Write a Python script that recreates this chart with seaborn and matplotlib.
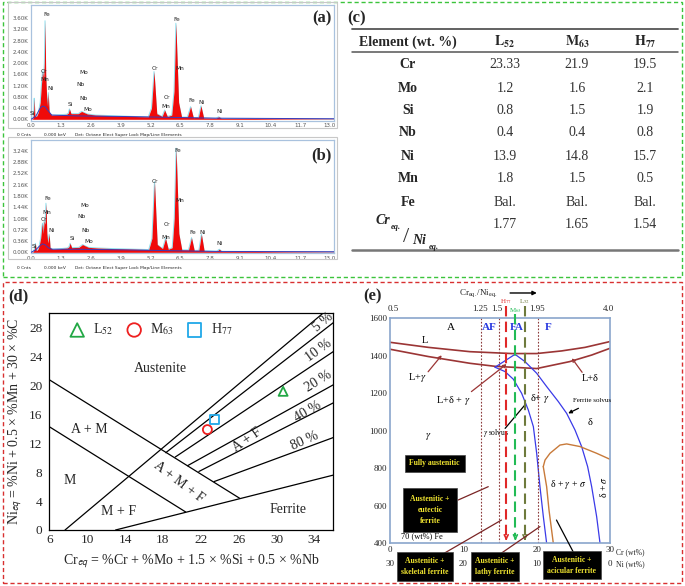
import numpy as np
import pandas as pd
import seaborn as sns
import matplotlib.pyplot as plt
from matplotlib.patches import Rectangle

W, H = 685, 586

# ---------------- (a)/(b) EDS spectra: (keV, kilo-counts)
eds_a = [(0.00, 0.00), (0.08, 0.02), (0.12, 0.30), (0.14, 0.75), (0.17, 0.10), (0.25, 0.12),
         (0.32, 0.25), (0.40, 0.60), (0.45, 1.20), (0.50, 1.70), (0.55, 1.45), (0.58, 2.00),
         (0.61, 3.51), (0.64, 1.60), (0.68, 0.80), (0.72, 0.45), (0.75, 0.95), (0.79, 0.25),
         (0.90, 0.15), (1.20, 0.16), (1.55, 0.18), (1.62, 0.22), (1.67, 0.37), (1.74, 0.20),
         (2.05, 0.20), (2.20, 0.28), (2.28, 0.25), (2.45, 0.19), (2.80, 0.15), (3.50, 0.13),
         (4.50, 0.10), (5.10, 0.09), (5.24, 0.40), (5.35, 1.70), (5.47, 0.20), (5.70, 0.10),
         (5.81, 0.33), (5.93, 0.10), (6.12, 0.15), (6.22, 1.00), (6.30, 3.42), (6.42, 0.60),
         (6.55, 0.08), (6.80, 0.08), (6.94, 0.45), (7.06, 0.06), (7.28, 0.07), (7.39, 0.48),
         (7.51, 0.05), (8.05, 0.04), (8.16, 0.09), (8.28, 0.03), (9.50, 0.03), (11.0, 0.02),
         (13.2, 0.01)]
eds_a_bg = [(0.0, 0.0), (0.2, 0.10), (0.4, 0.40), (0.5, 0.47), (0.6, 0.45), (0.75, 0.30),
            (0.9, 0.15), (2.0, 0.12), (4.0, 0.10), (8.0, 0.04), (13.2, 0.02)]
eds_a_labels = [('Fe', 0.68, 3.72), ('Cr', 0.54, 1.70), ('Mn', 0.59, 1.43), ('Ni', 0.83, 1.10),
                ('Si', 0.07, 0.21), ('Si', 1.71, 0.51), ('Mo', 2.29, 1.66), ('Nb', 2.15, 1.25),
                ('Nb', 2.29, 0.73), ('Mo', 2.47, 0.36), ('Cr', 5.37, 1.82), ('Fe', 6.36, 3.54),
                ('Mn', 6.46, 1.82), ('Cr', 5.93, 0.78), ('Mn', 5.85, 0.47), ('Fe', 7.01, 0.66),
                ('Ni', 7.42, 0.59), ('Ni', 8.20, 0.27)]
eds_a_yticks = [0.0, 0.4, 0.8, 1.2, 1.6, 2.0, 2.4, 2.8, 3.2, 3.6]

eds_b = [(0.00, 0.00), (0.10, 0.02), (0.15, 0.12), (0.19, 0.29), (0.23, 0.05), (0.30, 0.10),
         (0.35, 0.20), (0.42, 0.45), (0.47, 0.80), (0.50, 0.93), (0.53, 0.60), (0.57, 1.00),
         (0.61, 0.90), (0.65, 1.57), (0.69, 0.60), (0.73, 0.30), (0.79, 0.58), (0.83, 0.15),
         (0.95, 0.10), (1.30, 0.12), (1.58, 0.14), (1.65, 0.18), (1.70, 0.29), (1.77, 0.15),
         (2.08, 0.16), (2.24, 0.25), (2.32, 0.22), (2.50, 0.16), (2.90, 0.14), (3.60, 0.12),
         (4.60, 0.10), (5.12, 0.09), (5.26, 0.45), (5.37, 2.26), (5.49, 0.25), (5.72, 0.12),
         (5.85, 0.45), (5.97, 0.10), (6.14, 0.15), (6.23, 1.10), (6.31, 3.33), (6.43, 0.60),
         (6.56, 0.08), (6.85, 0.08), (6.98, 0.47), (7.10, 0.06), (7.30, 0.07), (7.41, 0.58),
         (7.53, 0.05), (8.08, 0.04), (8.19, 0.10), (8.30, 0.03), (9.50, 0.03), (11.0, 0.02),
         (13.2, 0.01)]
eds_b_bg = [(0.0, 0.0), (0.2, 0.08), (0.4, 0.22), (0.5, 0.27), (0.6, 0.25), (0.75, 0.15),
            (0.9, 0.10), (2.0, 0.10), (4.0, 0.08), (8.0, 0.03), (13.2, 0.02)]
eds_b_labels = [('Fe', 0.72, 1.73), ('Mn', 0.68, 1.28), ('Cr', 0.58, 1.06), ('Ni', 0.87, 0.71),
                ('Si', 0.14, 0.18), ('Si', 1.78, 0.45), ('Mo', 2.35, 1.51), ('Nb', 2.21, 1.14),
                ('Nb', 2.35, 0.69), ('Mo', 2.50, 0.34), ('Cr', 5.39, 2.26), ('Fe', 6.38, 3.27),
                ('Mn', 6.47, 1.67), ('Cr', 5.92, 0.90), ('Mn', 5.86, 0.48), ('Fe', 7.03, 0.64),
                ('Ni', 7.44, 0.64), ('Ni', 8.20, 0.27)]
eds_b_yticks = [0.0, 0.36, 0.72, 1.08, 1.44, 1.80, 2.16, 2.52, 2.88, 3.24]
eds_xticks = [0.0, 1.3, 2.6, 3.9, 5.2, 6.5, 7.8, 9.1, 10.4, 11.7, 13.0]

# ---------------- (c) composition table
elements = ['Cr', 'Mo', 'Si', 'Nb', 'Ni', 'Mn', 'Fe']
comp_L52 = ['23.33', '1.2', '0.8', '0.4', '13.9', '1.8', 'Bal.']
comp_M63 = ['21.9', '1.6', '1.5', '0.4', '14.8', '1.5', 'Bal.']
comp_H77 = ['19.5', '2.1', '1.9', '0.8', '15.7', '0.5', 'Bal.']
cr_ni_ratio = [1.77, 1.65, 1.54]

# ---------------- (d) Schaeffler diagram
sch_lines = {
    '0':  ([7.66, 34.9], [0.0, 30.0]),
    '5':  ([18.3, 36.0], [10.7, 28.7]),
    '10': ([19.3, 36.0], [10.1, 24.7]),
    '20': ([20.6, 36.0], [8.9, 20.1]),
    '40': ([21.8, 36.0], [8.1, 17.6]),
    '80': ([23.4, 36.0], [6.7, 12.8]),
    'AM': ([6.0, 26.1], [20.8, 4.4]),
    'M':  ([6.0, 20.4], [14.3, 2.5]),
    'F':  ([13.0, 36.0], [0.0, 7.6]),
}
samples = ['L$_{52}$', 'M$_{63}$', 'H$_{77}$']
sample_cr_eq = [30.7, 22.7, 23.4]
sample_ni_eq = [19.2, 13.9, 15.3]

# ---------------- (e) pseudo-binary Fe-Cr-Ni section
liq_cr = [0, 5.23, 10.9, 16.6, 20.0, 23.4, 26.6, 30.0]
liq_T = [1472, 1445, 1422, 1412, 1412, 1426, 1445, 1476]
sol_cr = [0, 5.23, 10.9, 14.3, 20.0, 24.5, 27.5, 30.0]
sol_T = [1435, 1396, 1360, 1344, 1332, 1369, 1404, 1440]
peri_cr = [14.32, 17.05]
peri_T = [1339, 1408]
gsolv_cr = [14.32, 15.68, 16.82, 17.95, 18.86, 19.55, 20.0, 20.45, 20.91, 21.36]
gsolv_T = [1339, 1316, 1275, 1200, 1111, 1022, 880, 702, 542, 400]
fsolv_cr = [17.05, 18.41, 20.0, 21.36, 22.95, 24.09, 25.23, 26.14, 26.95, 27.5, 28.18, 28.64]
fsolv_T = [1408, 1369, 1307, 1236, 1156, 1093, 1004, 915, 809, 702, 542, 400]
sig_cr = [20.9, 21.14, 21.82, 23.18, 24.09, 25.9, 28.18, 30.0]
sig_T = [809, 844, 880, 924, 930, 916, 880, 848]
sig_low_cr = [20.9, 21.36, 21.68, 22.27]
sig_low_T = [809, 702, 578, 400]
mode_bounds_cr = [12.41, 14.91, 20.14]
ratio_tick_cr = [0.4, 12.3, 14.6, 20.1, 29.8]
ratio_tick_lab = ['0.5', '1.25', '1.5', '1.95', '4.0']
cool_cr = [15.85, 17.1, 18.4]
cool_top = [1665, 1625, 1665]
cool_lab = ['H$_{77}$', 'M$_{63}$', 'L$_{52}$']
cool_lab_T = [1690, 1640, 1690]
cool_col = ['#e02828', '#22bb55', '#6e7a3c']


def px_box(l, t, r, b):
    return [l / W, 1 - b / H, (r - l) / W, (b - t) / H]


sns.set_theme(style='white')
plt.rcParams['font.family'] = ['Liberation Serif', 'DejaVu Serif']
plt.rcParams['mathtext.fontset'] = 'stix'

fig = plt.figure(figsize=(W / 100, H / 100), dpi=100)
fig.patch.set_facecolor('white')

# dashed group frames
fig.add_artist(Rectangle((3 / W, 1 - 277 / H), 679 / W, 275 / H, transform=fig.transFigure,
                         fill=False, ec='#3cc43c', lw=1.0, ls=(0, (3, 2))))
fig.add_artist(Rectangle((3 / W, 1 - 583 / H), 679 / W, 301 / H, transform=fig.transFigure,
                         fill=False, ec='#d83030', lw=1.0, ls=(0, (3, 2))))


def draw_eds(box, frame, spec, bg, labels, yticks, ylim, tag, tag_y, foot_y):
    fig.add_artist(Rectangle((frame[0] / W, 1 - frame[3] / H), (frame[2] - frame[0]) / W,
                             (frame[3] - frame[1]) / H, transform=fig.transFigure,
                             fill=False, ec='#c8c8c8', lw=0.8))
    ax = fig.add_axes(px_box(*box))
    df = pd.DataFrame(spec, columns=['keV', 'kcnt'])
    bgd = pd.DataFrame(bg, columns=['keV', 'kcnt'])
    ax.plot(df['keV'], df['kcnt'], color='#8fe0f0', lw=0.7, zorder=1)
    ax.fill_between(df['keV'], df['kcnt'], color='#f00a0a', lw=0, zorder=2)
    sns.lineplot(data=bgd, x='keV', y='kcnt', ax=ax, color='#3a3ab8', lw=0.7, zorder=3)
    for name, x, y in labels:
        ax.text(x, y, name, fontsize=4.2, ha='center', va='center', family='DejaVu Sans',
                color='#222222', zorder=4)
    ax.set_xlim(0, 13.19)
    ax.set_ylim(*ylim)
    ax.set_xticks(eds_xticks)
    ax.set_xticklabels([f'{v:.1f}' for v in eds_xticks], family='DejaVu Sans')
    ax.set_yticks(yticks)
    ax.set_yticklabels([f'{v:.2f}K' for v in yticks], family='DejaVu Sans')
    ax.tick_params(labelsize=4.0, length=0, pad=2, colors='#555555')
    ax.set_xlabel('')
    ax.set_ylabel('')
    for s in ax.spines.values():
        s.set_color('#a9c2de')
        s.set_linewidth(0.9)
    ax.text(0.958, tag_y, tag, transform=ax.transAxes, fontsize=12, fontweight='bold',
            ha='center', va='center')
    fig.text(17 / W, 1 - foot_y / H, '0 Cnts', fontsize=3.2, family='DejaVu Sans', va='center')
    fig.text(44 / W, 1 - foot_y / H, '0.000 keV', fontsize=3.2, family='DejaVu Sans', va='center')
    fig.text(75 / W, 1 - foot_y / H, 'Det: Octane Elect Super Lock Map/Line Elements',
             fontsize=3.2, family='DejaVu Sans', va='center')


draw_eds((31, 5, 334.3, 120.7), (8, 2, 337, 128), eds_a, eds_a_bg, eds_a_labels,
         eds_a_yticks, (-0.05, 4.07), '(a)', 0.885, 135)
draw_eds((31, 140, 334.3, 253.3), (8, 137, 337, 259), eds_b, eds_b_bg, eds_b_labels,
         eds_b_yticks, (-0.03, 3.59), '(b)', 0.868, 267.7)

# ---------------- (c) table
axc = fig.add_axes(px_box(340, 5, 682, 275))
axc.set_xlim(340, 682)
axc.set_ylim(275, 5)
axc.axis('off')
axc.text(347, 18, '(c)', fontsize=12, fontweight='bold', ha='left', va='center')
axc.plot([352, 678], [29, 29], color='#555555', lw=1.3)
axc.plot([352, 678], [52, 52], color='#555555', lw=1.1)
axc.plot([352, 678], [250, 250], color='#777777', lw=1.8)
col_x = [408, 505, 577, 645]
head = ['Element (wt. %)', r'$\mathbf{L_{52}}$', r'$\mathbf{M_{63}}$', r'$\mathbf{H_{77}}$']
for x, h in zip(col_x, head):
    axc.text(x, 42, h, fontsize=10, fontweight='bold', ha='center', va='center')
row_y = [64, 88, 110, 133, 156, 179, 202]
for i, el in enumerate(elements):
    y = row_y[i]
    axc.text(col_x[0], y, el, fontsize=10, fontweight='bold', ha='center', va='center')
    for x, col in zip(col_x[1:], [comp_L52, comp_M63, comp_H77]):
        axc.text(x, y, col[i], fontsize=10, ha='center', va='center', color='#333333')
for x, v in zip(col_x[1:], cr_ni_ratio):
    axc.text(x, 225, f'{v:.2f}', fontsize=10, ha='center', va='center', color='#333333')
axc.text(383, 221, 'Cr', fontsize=10, fontweight='bold', fontstyle='italic', ha='center', va='center')
axc.text(396, 227, 'eq.', fontsize=6, fontweight='bold', fontstyle='italic', ha='center', va='center')
axc.text(406.5, 238, '/', fontsize=16, ha='center', va='center', color='#333333')
axc.text(419, 241, 'Ni', fontsize=10, fontweight='bold', fontstyle='italic', ha='center', va='center')
axc.text(434, 247, 'eq.', fontsize=6, fontweight='bold', fontstyle='italic', ha='center', va='center')

# ---------------- (d) Schaeffler
axd = fig.add_axes(px_box(49.3, 313.3, 333.3, 530))
for key, (xs, ys) in sch_lines.items():
    axd.plot(xs, ys, color='black', lw=0.9)
mk = ['^', 'o', 's']
mc = ['#22a845', '#ee2020', '#20a8e8']
for name, x, y, m, c in zip(samples, sample_cr_eq, sample_ni_eq, mk, mc):
    axd.scatter([x], [y], marker=m, s=42, facecolors='none', edgecolors=c, linewidths=1.3,
                zorder=4, label=name)
axd.legend(loc='upper left', bbox_to_anchor=(0.02, 1.0), ncol=3, frameon=False, fontsize=10,
           handletextpad=0.15, columnspacing=0.5, markerscale=1.5, borderaxespad=0.2)
axd.set_xlim(6, 36)
axd.set_ylim(0, 30)
axd.set_xticks([6, 10, 14, 18, 22, 26, 30, 34])
axd.set_yticks([0, 4, 8, 12, 16, 20, 24, 28])
axd.tick_params(axis='x', direction='in', length=4, width=0.9, labelsize=9.5, pad=3, color='black')
axd.tick_params(axis='y', direction='out', length=4, width=0.9, labelsize=9.5, pad=1, color='black')
for s in axd.spines.values():
    s.set_color('black')
    s.set_linewidth(0.9)
d_labels = [('Austenite', 17.7, 22.4, 0), ('A + M', 10.2, 13.9, 0), ('M', 8.2, 6.9, 0),
            ('M + F', 13.3, 2.5, 0), ('A + M + F', 19.7, 6.7, -37), ('A + F', 26.9, 12.5, 35),
            ('Ferrite', 31.2, 2.9, 0), ('5 %', 34.9, 28.7, 40), ('10 %', 34.5, 24.8, 36),
            ('20 %', 34.4, 20.6, 32), ('40 %', 33.3, 16.4, 30), ('80 %', 33.0, 12.3, 24)]
for t, x, y, r in d_labels:
    axd.text(x, y, t, fontsize=10, ha='center', va='center', rotation=r)
axd.set_xlabel(r'Cr$_{\mathsf{eq}}$ = %Cr + %Mo + 1.5 × %Si + 0.5 × %Nb', fontsize=10, labelpad=5)
axd.set_ylabel(r'Ni$_{\mathsf{eq}}$ = %Ni + 0.5 × %Mn + 30 × %C', fontsize=10, labelpad=3)
fig.text(18 / W, 1 - 296 / H, '(d)', fontsize=12, fontweight='bold', ha='center', va='center')

# ---------------- (e) phase diagram
axe = fig.add_axes(px_box(390, 318.3, 610, 543.3))
brown = '#9b3535'
blue = '#3a3ae8'
axe.plot(liq_cr, liq_T, color=brown, lw=1.2)
axe.plot(sol_cr, sol_T, color=brown, lw=1.2)
axe.plot(peri_cr, peri_T, color=blue, lw=0.9)
axe.plot(gsolv_cr, gsolv_T, color=blue, lw=0.9)
axe.plot(fsolv_cr, fsolv_T, color=blue, lw=0.9)
axe.plot(sig_cr, sig_T, color='#c87a3a', lw=1.0)
axe.plot(sig_low_cr, sig_low_T, color='#c87a3a', lw=1.0)
for x in mode_bounds_cr:
    axe.plot([x, x], [400, 1600], color='#8b3a3a', lw=0.8, ls=(0, (1.5, 1.5)))
for x, top, c, lab, ly in zip(cool_cr, cool_top, cool_col, cool_lab, cool_lab_T):
    axe.plot([x, x], [top, 440], color=c, lw=1.5, ls=(0, (5, 2.5)), clip_on=False, zorder=5)
    axe.annotate('', xy=(x, 400), xytext=(x, 445),
                 arrowprops=dict(arrowstyle='->', color=c, lw=1.2, mutation_scale=7))
    axe.text(x, ly, lab, fontsize=5, color=c, ha='center', va='center', clip_on=False)
for x, t in zip(ratio_tick_cr, ratio_tick_lab):
    axe.text(x, 1650, t, fontsize=6.5, ha='center', va='center')
axe.text(12.0, 1735, r'Cr$_{\rm eq.}$/Ni$_{\rm eq.}$', fontsize=6.5, ha='center', va='center')
axe.annotate('', xy=(20.4, 1735), xytext=(16.0, 1735), annotation_clip=False,
             arrowprops=dict(arrowstyle='-|>', color='black', lw=1.0, mutation_scale=6))
axe.set_xlim(0, 30)
axe.set_ylim(400, 1600)
axe.set_yticks([400, 600, 800, 1000, 1200, 1400, 1600])
axe.set_xticks([0, 10, 20, 30])
axe.tick_params(direction='in', length=4, width=1.1, color='#4a70c0', labelsize=6.5, pad=2)
for s in axe.spines.values():
    s.set_color('#8aa6cc')
    s.set_linewidth(1.2)
axe.text(30.8, 355, 'Cr (wt%)', fontsize=5.5, ha='left', va='center', clip_on=False)
for x, t in zip([0, 10, 20, 30], ['30', '20', '10', '0']):
    axe.text(x, 290, t, fontsize=6.5, ha='center', va='center', clip_on=False)
axe.text(30.8, 290, 'Ni (wt%)', fontsize=5.5, ha='left', va='center', clip_on=False)

e_labels = [('A', 8.32, 1552, 8, 'black', 'normal', 0), ('AF', 13.6, 1552, 8, '#2a3ae0', 'bold', 0),
            ('FA', 17.3, 1552, 8, '#2a3ae0', 'bold', 0), ('F', 21.6, 1552, 8, '#2a3ae0', 'bold', 0),
            ('L', 4.77, 1484, 7.5, 'black', 'normal', 0),
            (r'L+$\gamma$', 3.77, 1285, 7.5, 'black', 'normal', 0),
            ('L+δ', 27.3, 1280, 7.5, 'black', 'normal', 0),
            (r'L+δ + $\gamma$', 8.64, 1164, 7.5, 'black', 'normal', 0),
            (r'δ+ $\gamma$', 20.4, 1173, 7.5, 'black', 'normal', 0),
            ('δ', 27.3, 1044, 7.5, 'black', 'normal', 0),
            (r'$\gamma$', 5.2, 969, 7.5, 'black', 'normal', 0),
            (r'δ + $\gamma$ + $\sigma$', 24.3, 715, 7, 'black', 'normal', 0),
            (r'δ + $\sigma$', 29.1, 702, 7, 'black', 'normal', 90),
            ('Ferrite solvus', 27.5, 1159, 5, 'black', 'normal', 0),
            (r'$\gamma$ solvus', 14.5, 990, 5.5, 'black', 'normal', 0),
            ('70 (wt%) Fe', 4.3, 439, 6, 'black', 'normal', 0)]
for t, x, y, fs, c, fw, r in e_labels:
    axe.text(x, y, t, fontsize=fs, color=c, fontweight=fw, rotation=r, ha='center', va='center')

leaders = [((5.2, 1315), (7.05, 1403), brown, '->'), ((26.2, 1312), (24.8, 1387), brown, '->'),
           ((11.1, 1209), (15.9, 1356), brown, '->'), ((25.7, 1120), (24.3, 1093), 'black', '-|>'),
           ((15.7, 1013), (18.4, 1138), 'black', '-'), ((9.3, 631), (13.4, 702), '#7a2525', '-'),
           ((6.6, 329), (15.2, 524), '#7a2525', '-'), ((14.5, 329), (20.45, 489), '#7a2525', '-'),
           ((25.2, 338), (22.7, 524), 'black', '-')]
for (x0, y0), (x1, y1), c, st in leaders:
    axe.annotate('', xy=(x1, y1), xytext=(x0, y0), annotation_clip=False,
                 arrowprops=dict(arrowstyle=st, color=c, lw=0.9, mutation_scale=5,
                                 shrinkA=0, shrinkB=0))

boxes = [('Fully austenitic', 6.1, 827, 0.6), ('Austenitic +\neutectic\nferrite', 5.45, 578, 0.9),
         ('Austenitic +\nskeletal ferrite', 4.77, 276, 0.6), ('Austenitic +\nlathy ferrite', 14.3, 276, 0.6),
         ('Austenitic +\nacicular ferrite', 24.8, 284, 0.6)]
for t, x, y, pad in boxes:
    axe.text(x, y, t, fontsize=5.5, fontweight='bold', color='#f2e630', ha='center', va='center',
             linespacing=1.5, clip_on=False, zorder=6,
             bbox=dict(boxstyle=f'square,pad={pad}', fc='black', ec='#444444', lw=0.5))
fig.text(372 / W, 1 - 296 / H, '(e)', fontsize=12, fontweight='bold', ha='center', va='center')

fig.savefig('out.png', dpi=100)
